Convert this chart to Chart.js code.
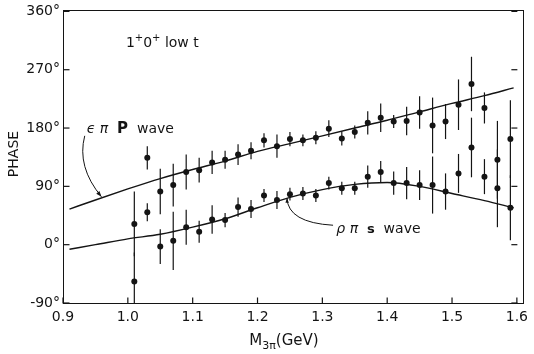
<!DOCTYPE html>
<html>
<head>
<meta charset="utf-8">
<style>
  html, body { margin: 0; padding: 0; background: #fff; }
  .chart-view { width: 534px; height: 354px; position: relative; }
  .frame {
    position: absolute; left: 63px; top: 10px; width: 461px; height: 294px;
    box-sizing: border-box; border: 1px solid #141414; pointer-events: none;
  }
</style>
</head>
<body>
<div class="chart-view">
  <canvas id="myChart"></canvas>
  <div class="frame"></div>
</div>

<script src="https://cdn.jsdelivr.net/npm/chart.js@4.4.0/dist/chart.umd.min.js"></script>

<script>
// data (mass in GeV, phase in degrees)
const massPoints = [1.01, 1.03, 1.05, 1.07, 1.09, 1.11, 1.13, 1.15, 1.17, 1.19,
                    1.21, 1.23, 1.25, 1.27, 1.29, 1.31, 1.33, 1.35, 1.37, 1.39,
                    1.41, 1.43, 1.45, 1.47, 1.49, 1.51, 1.53, 1.55, 1.57, 1.59];

// epsilon pi P wave
const pWavePhase = [32, 134, 82, 92, 112, 115, 127, 131, 139, 145,
                    161, 152, 163, 161, 165, 179, 164, 174, 188, 196,
                    190, 191, 204, 184, 190, 216, 248, 211, 131, 163];
const pWaveErr   = [50, 18, 35, 33, 27, 19, 18, 14, 16, 13,
                    11, 18, 11, 9, 10, 13, 11, 10, 18, 22,
                    10, 22, 25, 43, 27, 39, 42, 24, 60, 60];

// rho pi S wave
const sWavePhase = [-57, 50, -3, 6, 27, 20, 39, 38, 58, 55,
                    76, 69, 78, 79, 76, 95, 87, 87, 105, 112,
                    95, 95, 92, 92, 82, 110, 150, 105, 87, 57];
const sWaveErr   = [45, 14, 27, 45, 27, 17, 22, 11, 15, 14,
                    10, 14, 10, 10, 10, 10, 10, 10, 17, 17,
                    18, 25, 23, 44, 28, 30, 46, 27, 60, 50];

// fitted curves
const fitMass  = [0.91, 0.95, 1.0, 1.05, 1.1, 1.15, 1.2, 1.25, 1.3, 1.35, 1.4, 1.45, 1.5, 1.55, 1.595];
const pWaveFit = [55, 69, 86, 102, 116, 129, 144, 156, 168, 180, 192, 205, 218, 230, 242];
const sWaveFit = [-7, 0, 9, 16, 27, 40, 57, 73, 85, 93, 96, 90, 79, 68, 57];

const xTicks = [0.9, 1.0, 1.1, 1.2, 1.3, 1.4, 1.5, 1.6];
const yTicks = [-90, 0, 90, 180, 270, 360];

const INK = '#141414';
const FONT = '"DejaVu Sans", sans-serif';

function pts(xs, ys) { return xs.map((x, i) => ({ x: x, y: ys[i] })); }

function seg(g, x1, y1, x2, y2) {
  g.beginPath();
  g.moveTo(x1, y1);
  g.lineTo(x2, y2);
  g.stroke();
}

// draws a row of text pieces, each with own font and vertical shift
function drawRuns(g, x, y, runs, align) {
  let total = 0;
  runs.forEach(r => { g.font = r.font; r.w = g.measureText(r.t).width; total += r.w; });
  let cx = align === 'center' ? x - total / 2 : x;
  runs.forEach(r => {
    g.font = r.font;
    g.fillText(r.t, cx, y + (r.dy || 0));
    cx += r.w;
  });
}

function arrowHead(g, fromX, fromY, toX, toY, size) {
  const ang = Math.atan2(toY - fromY, toX - fromX);
  g.beginPath();
  g.moveTo(toX, toY);
  g.lineTo(toX - size * Math.cos(ang - 0.35), toY - size * Math.sin(ang - 0.35));
  g.lineTo(toX - size * Math.cos(ang + 0.35), toY - size * Math.sin(ang + 0.35));
  g.closePath();
  g.fill();
}

const paperPlugin = {
  id: 'paper',
  beforeDatasetsDraw(chart) {
    const g = chart.ctx, xs = chart.scales.x, ys = chart.scales.y;
    g.save();
    g.strokeStyle = INK;
    g.lineWidth = 1.2;
    // error bars
    [[pWavePhase, pWaveErr], [sWavePhase, sWaveErr]].forEach(([vals, errs]) => {
      massPoints.forEach((m, i) => {
        const px = xs.getPixelForValue(m);
        const top = ys.getPixelForValue(Math.min(360, vals[i] + errs[i]));
        const bot = ys.getPixelForValue(Math.max(-90, vals[i] - errs[i]));
        seg(g, px, top, px, bot);
      });
    });
    // inward ticks
    const L = xs.getPixelForValue(0.9) + 0.5;
    const R = xs.getPixelForValue(1.6) + 0.5;
    const B = ys.getPixelForValue(-90) + 0.5;
    xTicks.forEach(v => {
      const px = xs.getPixelForValue(v);
      seg(g, px, B, px, B - 6);
    });
    yTicks.forEach(v => {
      const py = ys.getPixelForValue(v);
      seg(g, L, py, L + 6, py);
      seg(g, R, py, R - 6, py);
    });
    g.restore();
  },
  afterDraw(chart) {
    const g = chart.ctx, xs = chart.scales.x, ys = chart.scales.y;
    const L = xs.getPixelForValue(0.9);
    const R = xs.getPixelForValue(1.6);
    g.save();
    g.strokeStyle = INK;
    g.fillStyle = INK;

    // axis titles
    g.textBaseline = 'middle';
    g.textAlign = 'left';
    drawRuns(g, (L + R) / 2 - 6, 341, [
      { t: 'M', font: '15px ' + FONT },
      { t: '3π', font: '11px ' + FONT, dy: 5 },
      { t: '(GeV)', font: '15px ' + FONT }
    ], 'center');
    g.save();
    g.translate(14, 154);
    g.rotate(-Math.PI / 2);
    drawRuns(g, 0, 0, [{ t: 'PHASE', font: '14px ' + FONT }], 'center');
    g.restore();

    // labels inside the plot
    drawRuns(g, xs.getPixelForValue(0.997), ys.getPixelForValue(311), [
      { t: '1', font: '14px ' + FONT },
      { t: '+', font: '10px ' + FONT, dy: -5 },
      { t: '0', font: '14px ' + FONT },
      { t: '+', font: '10px ' + FONT, dy: -5 },
      { t: ' low t', font: '14px ' + FONT }
    ]);
    drawRuns(g, xs.getPixelForValue(0.9365), ys.getPixelForValue(178), [
      { t: 'ϵ π  ', font: 'italic 14px ' + FONT },
      { t: 'P', font: 'bold 15px ' + FONT },
      { t: '  wave', font: '14px ' + FONT }
    ]);
    drawRuns(g, xs.getPixelForValue(1.3215), ys.getPixelForValue(24), [
      { t: 'ρ π  ', font: 'italic 14px ' + FONT },
      { t: 's', font: 'bold 13px ' + FONT },
      { t: '  wave', font: '14px ' + FONT }
    ]);

    // pointer arrows
    g.lineWidth = 1;
    let sx = xs.getPixelForValue(0.9335), sy = ys.getPixelForValue(168);
    let cx = xs.getPixelForValue(0.921), cy = ys.getPixelForValue(120);
    let ex = xs.getPixelForValue(0.9593), ey = ys.getPixelForValue(74);
    g.beginPath(); g.moveTo(sx, sy); g.quadraticCurveTo(cx, cy, ex, ey); g.stroke();
    arrowHead(g, cx, cy, ex, ey, 6);

    sx = xs.getPixelForValue(1.3165); sy = ys.getPixelForValue(30);
    cx = xs.getPixelForValue(1.247); cy = ys.getPixelForValue(34);
    ex = xs.getPixelForValue(1.2454); ey = ys.getPixelForValue(72);
    g.beginPath(); g.moveTo(sx, sy); g.quadraticCurveTo(cx, cy, ex, ey); g.stroke();
    arrowHead(g, cx, cy, ex, ey, 5);

    g.restore();
  }
};

const ctx = document.getElementById('myChart');

let chart = new Chart(ctx, {
  type: 'scatter',
  data: {
    datasets: [{
      label: 'epsilon pi P wave',
      data: pts(massPoints, pWavePhase),
      pointRadius: 3,
      pointBackgroundColor: INK,
      pointBorderWidth: 0
    }, {
      label: 'rho pi S wave',
      data: pts(massPoints, sWavePhase),
      pointRadius: 3,
      pointBackgroundColor: INK,
      pointBorderWidth: 0
    }, {
      label: 'P wave fit',
      data: pts(fitMass, pWaveFit),
      showLine: true,
      pointRadius: 0,
      borderColor: INK,
      borderWidth: 1.4,
      cubicInterpolationMode: 'monotone'
    }, {
      label: 'S wave fit',
      data: pts(fitMass, sWaveFit),
      showLine: true,
      pointRadius: 0,
      borderColor: INK,
      borderWidth: 1.4,
      cubicInterpolationMode: 'monotone'
    }]
  },
  options: {
    responsive: true,
    maintainAspectRatio: false,
    animation: false,
    layout: { padding: { top: 10, right: 11, left: 0, bottom: 0 } },
    plugins: { legend: { display: false }, tooltip: { enabled: false } },
    scales: {
      x: {
        type: 'linear',
        min: 0.9,
        max: 1.6,
        afterBuildTicks: s => { s.ticks = xTicks.map(v => ({ value: v })); },
        ticks: {
          callback: v => v.toFixed(1),
          color: INK,
          font: { family: FONT, size: 14 },
          padding: 6,
          maxRotation: 0
        },
        grid: { display: false, drawTicks: false },
        border: { display: false },
        afterFit: s => { s.height = 51; }
      },
      y: {
        min: -90,
        max: 360,
        afterBuildTicks: s => { s.ticks = yTicks.map(v => ({ value: v })); },
        ticks: {
          callback: v => v + '°',
          color: INK,
          font: { family: FONT, size: 14 },
          padding: 3
        },
        grid: { display: false, drawTicks: false },
        border: { display: false },
        afterFit: s => { s.width = 63; }
      }
    }
  },
  plugins: [paperPlugin]
});
</script>
</body>
</html>
